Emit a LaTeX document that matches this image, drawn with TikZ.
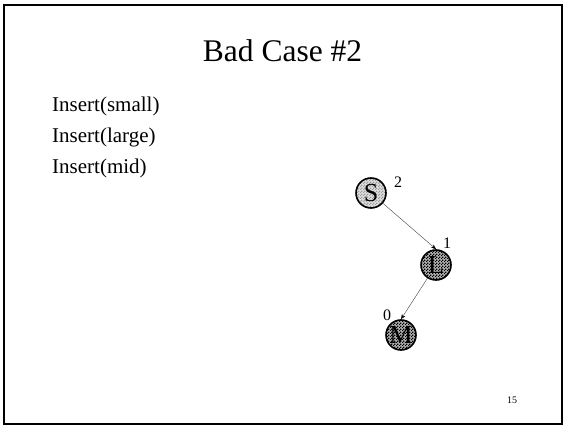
\documentclass[tikz,border=0pt]{standalone}
\usepackage{fontspec}
\setmainfont{Liberation Serif}
\usetikzlibrary{arrows.meta}
\usetikzlibrary{patterns}

% checks, 1.5pt squares
\pgfdeclarepatternformonly{finechecks}{\pgfqpoint{0pt}{0pt}}{\pgfqpoint{3pt}{3pt}}{\pgfqpoint{3pt}{3pt}}{
	\pgfpathrectangle{\pgfqpoint{0pt}{0pt}}{\pgfqpoint{1.5pt}{1.5pt}}
	\pgfpathrectangle{\pgfqpoint{1.5pt}{1.5pt}}{\pgfqpoint{1.5pt}{1.5pt}}
	\pgfusepath{fill}
}

\begin{document}
\begin{tikzpicture}[x=1pt,y=-1pt,
	treenode/.style={circle,draw,line width=1.6pt,minimum size=30pt,inner sep=0pt,font=\fontsize{26}{26}\selectfont},
	lightnode/.style={treenode,preaction={fill=black!12},pattern=finechecks,pattern color=black!40},
	darknode/.style={treenode,preaction={fill=black!30},pattern=finechecks,pattern color=black},
	hgt/.style={font=\fontsize{16}{16}\selectfont,inner sep=0pt},
	edge/.style={black!75,-{Stealth[length=5pt,width=4pt,color=black]}}]
	\useasboundingbox (0,0) rectangle (565,427);
	\draw[line width=2pt] (4,5) rectangle (562,424);
	
	\node[anchor=base,font=\fontsize{31.5}{31.5}\selectfont,inner sep=0pt] (title) at (282.5,62) {Bad Case \#2};
	\node[anchor=base west,font=\fontsize{21}{21}\selectfont,inner sep=0pt] (ins1) at (52,111.5) {Insert(small)};
	\node[anchor=base west,font=\fontsize{21}{21}\selectfont,inner sep=0pt] (ins2) at (52,142.5) {Insert(large)};
	\node[anchor=base west,font=\fontsize{21}{21}\selectfont,inner sep=0pt] (ins3) at (52,173.5) {Insert(mid)};
	
	\node[lightnode] (S) at (371,193) {S};
	\node[darknode] (L) at (436,265) {L};
	\node[darknode] (M) at (401,335) {M};
	\node[hgt] (hS) at (398,182) {2};
	\node[hgt] (hL) at (447,243) {1};
	\node[hgt] (hM) at (387,315) {0};
	
	\draw[edge] (S) -- (L.north);
	\draw[edge] (L) -- (M.north);
	
	\node[font=\fontsize{10}{10}\selectfont,inner sep=0pt] (page) at (512,400) {15};
\end{tikzpicture}
\end{document}
